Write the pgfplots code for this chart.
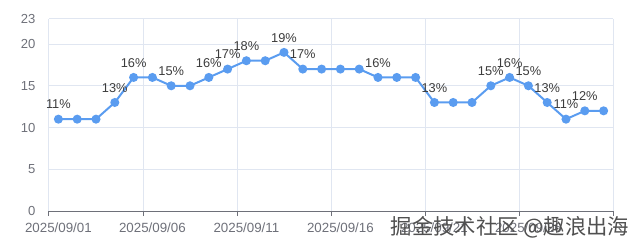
\documentclass[border=0pt]{standalone}
\usepackage{pgfplots}
\pgfplotsset{compat=1.18}
\usepackage{fontspec}
\setmainfont{Liberation Sans}
\newfontfamily\cjk{Noto Sans CJK SC}
\definecolor{lineblue}{RGB}{90,156,240}
\definecolor{axgray}{RGB}{110,112,121}
\definecolor{gridc}{RGB}{224,230,241}
\definecolor{labc}{RGB}{60,60,60}
\definecolor{wm}{RGB}{80,80,80}
\begin{document}
\begin{tikzpicture}
\path[use as bounding box] (-36.75pt,-29.25pt) rectangle (444pt,158.25pt);
\begin{axis}[
  at={(0,0)}, anchor=south west, scale only axis,
  width=423pt, height=144pt,
  xmin=0, xmax=30, ymin=0, ymax=23,
  xtick={0,5,10,15,20,25,30},
  xticklabels={2025/09/01,2025/09/06,2025/09/11,2025/09/16,2025/09/21,2025/09/26,{}},
  ytick={0,5,10,15,20,23},
  grid=major,
  major grid style={gridc, line width=0.75pt},
  axis x line*=bottom, axis y line*=left,
  x axis line style={axgray, line width=0.75pt, -},
  y axis line style={draw=none},
  xtick style={axgray, line width=0.75pt},
  ytick style={draw=none},
  major tick length=3.75pt, tick align=outside,
  xticklabel style={font=\fontsize{10}{12}\selectfont, text=axgray, xshift=7.05pt, yshift=-1.5pt},
  yticklabel style={font=\fontsize{9.8}{11}\selectfont, text=axgray, xshift=-3pt},
  /pgf/number format/assume math mode=true,
  clip=false,
]
\addplot[lineblue, line width=1.5pt, mark=*, mark size=2.6pt,
  mark options={fill=lineblue, draw=lineblue}] coordinates {
  (0.5,11)(1.5,11)(2.5,11)(3.5,13)(4.5,16)(5.5,16)(6.5,15)(7.5,15)(8.5,16)(9.5,17)
  (10.5,18)(11.5,18)(12.5,19)(13.5,17)(14.5,17)(15.5,17)(16.5,17)(17.5,16)(18.5,16)(19.5,16)
  (20.5,13)(21.5,13)(22.5,13)(23.5,15)(24.5,16)(25.5,15)(26.5,13)(27.5,11)(28.5,12)(29.5,12)
};
\addplot[draw=none, mark=none,
  nodes near coords={\pgfmathprintnumber{\pgfplotspointmeta}\%},
  nodes near coords style={anchor=center, yshift=11pt, font=\fontsize{9.6}{11}\selectfont, text=labc}]
  coordinates {
  (0.5,11)(3.5,13)(4.5,16)(6.5,15)(8.5,16)(9.5,17)(10.5,18)(12.5,19)(13.5,17)(17.5,16)
  (20.5,13)(23.5,15)(24.5,16)(25.5,15)(26.5,13)(27.5,11)(28.5,12)
};
\end{axis}
\node[font=\cjk\fontsize{16}{16}\selectfont, text=wm] at (345.75pt,-12pt) {掘金技术社区 @趣浪出海};
\end{tikzpicture}
\end{document}
